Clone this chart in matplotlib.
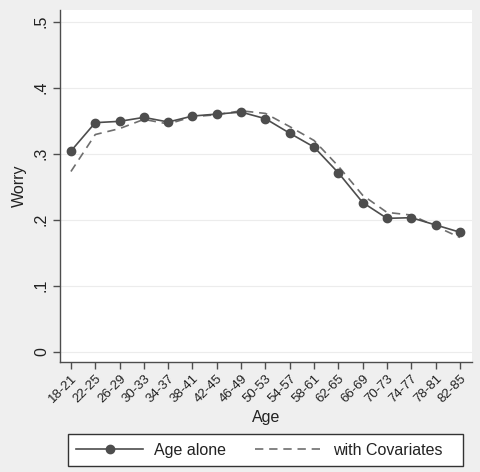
import numpy as np
import matplotlib.pyplot as plt
from matplotlib.patches import Rectangle

plt.rcParams['font.family'] = ['Liberation Sans', 'DejaVu Sans']

# data
age_groups = ['18-21', '22-25', '26-29', '30-33', '34-37', '38-41', '42-45',
              '46-49', '50-53', '54-57', '58-61', '62-65', '66-69', '70-73',
              '74-77', '78-81', '82-85']
age_alone = [0.304, 0.347, 0.349, 0.355, 0.348, 0.357, 0.360, 0.363, 0.353,
             0.331, 0.310, 0.271, 0.226, 0.202, 0.203, 0.192, 0.181]
with_cov = [0.273, 0.329, 0.338, 0.352, 0.345, 0.356, 0.359, 0.365, 0.361,
            0.341, 0.320, 0.281, 0.237, 0.211, 0.207, 0.190, 0.173]
yticks = [0, 0.1, 0.2, 0.3, 0.4, 0.5]
yticklabels = ['0', '.1', '.2', '.3', '.4', '.5']

bg = '#efefef'
dark = '#4d4d4d'

fig = plt.figure(figsize=(4.8, 4.72), dpi=100, facecolor=bg)
ax = fig.add_axes([0.125, 0.2337, 0.858, 0.7451])
ax.set_facecolor('white')

x = np.arange(len(age_groups))
l1, = ax.plot(x, age_alone, color=dark, lw=1.2, marker='o', ms=6,
              mfc=dark, mec=dark, label='Age alone', zorder=3)
l2, = ax.plot(x, with_cov, color='#6e6e6e', lw=1.2, ls=(0, (5, 3.5)),
              label='with Covariates', zorder=2)

ax.set_xlim(-0.45, 16.49)
ax.set_ylim(-0.0152, 0.5177)
ax.set_yticks(yticks)
ax.set_yticklabels(yticklabels, rotation=90, va='center', fontsize=11.5)
ax.set_xticks(x)
ax.set_xticklabels(age_groups, rotation=45, ha='right', rotation_mode='anchor',
                   fontsize=9.5)
ax.grid(axis='y', color='#ececec', lw=0.8)
ax.set_axisbelow(True)

for s in ['top', 'right']:
    ax.spines[s].set_visible(False)
for s in ['left', 'bottom']:
    ax.spines[s].set_color(dark)
    ax.spines[s].set_linewidth(1.0)
ax.tick_params(colors=dark, labelcolor='#222222', length=5, width=1.0, pad=3)

ax.set_ylabel('Worry', fontsize=11.5, color='#222222', labelpad=5)
ax.set_xlabel('Age', fontsize=11.5, color='#222222', labelpad=3)

# legend box drawn separately so it can be wider on the right, like Stata
fig.patches.append(Rectangle((68 / 480, 1 - 466 / 472), 395 / 480, 32 / 472,
                             transform=fig.transFigure, facecolor='white',
                             edgecolor='#333333', lw=1.0, zorder=0))
leg = fig.legend(handles=[l1, l2], loc='center',
                 bbox_to_anchor=(0.5406, 0.0466), ncol=2, fontsize=11.5,
                 frameon=False, handlelength=4.2, columnspacing=1.8,
                 borderpad=0.45, borderaxespad=0, handletextpad=0.7)
for t in leg.get_texts():
    t.set_color('#222222')

fig.savefig('out.png', dpi=100, facecolor=bg)
